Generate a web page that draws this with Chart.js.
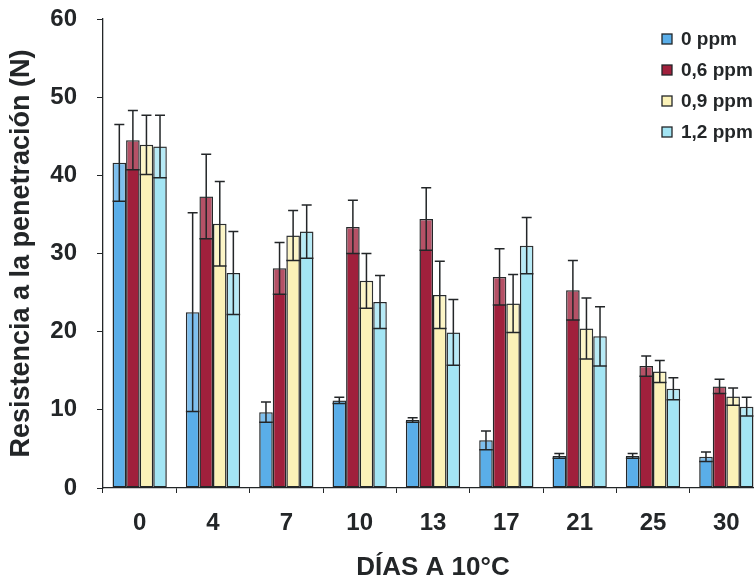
<!DOCTYPE html>
<html>
<head>
<meta charset="utf-8">
<script src="https://cdn.jsdelivr.net/npm/chart.js@4/dist/chart.umd.min.js"></script>
<style>
    html, body { margin: 0; padding: 0; background: #ffffff; overflow: hidden; }
    #wrap { width: 754px; height: 585px; overflow: hidden; }
</style>
</head>
<body>
<div id="wrap"><canvas id="firmnessChart" width="772" height="585"></canvas></div>
<script>
    const days = ['0', '4', '7', '10', '13', '17', '21', '25', '30'];
    const yTicks = [0, 10, 20, 30, 40, 50, 60];

    const ppm0 = [41.6, 22.5, 9.7, 11.2, 8.7, 6.1, 4.1, 4.1, 4.0];
    const ppm0Err = [4.9, 12.7, 1.3, 0.4, 0.3, 1.2, 0.3, 0.3, 0.6];
    const ppm06 = [44.5, 37.3, 28.1, 33.4, 34.4, 27.0, 25.3, 15.6, 13.0];
    const ppm06Err = [3.8, 5.4, 3.3, 3.4, 4.0, 3.6, 3.8, 1.3, 0.9];
    const ppm09 = [43.9, 33.8, 32.3, 26.5, 24.7, 23.6, 20.4, 14.9, 11.7];
    const ppm09Err = [3.8, 5.4, 3.2, 3.5, 4.3, 3.7, 3.9, 1.4, 1.1];
    const ppm12 = [43.7, 27.5, 32.8, 23.8, 19.9, 31.0, 19.4, 12.7, 10.4];
    const ppm12Err = [4.0, 5.3, 3.4, 3.4, 4.2, 3.6, 3.8, 1.4, 1.2];

    const ink = '#232628';
    const font = 'Liberation Sans, Arial, sans-serif';

    // error bars: whisker + cap above, lighter band with a bar-wide line below
    const errorBars = {
        id: 'errorBars',
        afterDatasetsDraw(chart) {
            let ctx = chart.ctx;
            let y = chart.scales.y;
            chart.data.datasets.forEach(function (ds, i) {
                let meta = chart.getDatasetMeta(i);
                meta.data.forEach(function (bar, j) {
                    let v = ds.data[j];
                    let e = ds.errors[j];
                    let yTop = y.getPixelForValue(v + e);
                    let yBot = y.getPixelForValue(v - e);
                    let left = bar.x - bar.width / 2;
                    let right = bar.x + bar.width / 2;
                    ctx.save();
                    ctx.fillStyle = 'rgba(255,255,255,0.22)';
                    ctx.fillRect(left + 1, bar.y + 1, bar.width - 2, yBot - bar.y - 1);
                    ctx.strokeStyle = ink;
                    ctx.lineWidth = 1.5;
                    ctx.beginPath();
                    ctx.moveTo(bar.x, yBot);
                    ctx.lineTo(bar.x, yTop);
                    ctx.moveTo(bar.x - 5, yTop);
                    ctx.lineTo(bar.x + 5, yTop);
                    ctx.moveTo(left, yBot);
                    ctx.lineTo(right, yBot);
                    ctx.stroke();
                    ctx.restore();
                });
            });
        }
    };

    // legend drawn inside the plot, top right
    const boxLegend = {
        id: 'boxLegend',
        afterDraw(chart) {
            let ctx = chart.ctx;
            ctx.save();
            ctx.font = 'bold 19px ' + font;
            ctx.textBaseline = 'middle';
            chart.data.datasets.forEach(function (ds, i) {
                let cy = 39 + i * 31;
                ctx.fillStyle = ds.backgroundColor;
                ctx.fillRect(662, cy - 5, 10, 10);
                ctx.strokeStyle = ink;
                ctx.lineWidth = 1.3;
                ctx.strokeRect(662, cy - 5, 10, 10);
                ctx.fillStyle = ink;
                ctx.fillText(ds.label, 681, cy + 1);
            });
            ctx.restore();
        }
    };

    let firmnessBar = document.getElementById('firmnessChart');
    let firmnessChart = new Chart(firmnessBar, {
        type: 'bar',
        data: {
            labels: days,
            datasets: [
                { label: '0 ppm', data: ppm0, errors: ppm0Err, backgroundColor: '#5aaee9' },
                { label: '0,6 ppm', data: ppm06, errors: ppm06Err, backgroundColor: '#a0203c' },
                { label: '0,9 ppm', data: ppm09, errors: ppm09Err, backgroundColor: '#fbf2b8' },
                { label: '1,2 ppm', data: ppm12, errors: ppm12Err, backgroundColor: '#a3e5f4' }
            ].map(function (ds) {
                ds.borderColor = ink;
                ds.borderWidth = 1.5;
                ds.borderSkipped = false;
                ds.barPercentage = 1.0;
                ds.categoryPercentage = 0.74;
                return ds;
            })
        },
        options: {
            responsive: false,
            animation: false,
            layout: { padding: { top: 19, right: 9, left: 0, bottom: 0 } },
            plugins: {
                legend: { display: false },
                tooltip: { enabled: false }
            },
            scales: {
                x: {
                    afterFit: function (scale) { scale.height = 97; },
                    border: { color: ink, width: 1.3 },
                    grid: { drawOnChartArea: false, drawTicks: true, tickLength: 5, color: ink },
                    ticks: { color: ink, padding: 16, font: { family: font, size: 24, weight: 'bold' } },
                    title: {
                        display: true,
                        text: 'DÍAS A 10°C',
                        color: ink,
                        padding: { top: 4, bottom: 2 },
                        font: { family: font, size: 26, weight: 'bold' }
                    }
                },
                y: {
                    min: 0,
                    max: 60,
                    afterFit: function (scale) {
                        scale.width = 103;
                        scale.paddingTop = 0;
                        scale.paddingBottom = 0;
                    },
                    afterBuildTicks: function (scale) {
                        scale.ticks = yTicks.map(function (v) { return { value: v }; });
                    },
                    border: { color: ink, width: 1.3 },
                    grid: { drawOnChartArea: false, drawTicks: true, tickLength: 6, color: ink },
                    ticks: { color: ink, padding: 20, font: { family: font, size: 24, weight: 'bold' } },
                    title: {
                        display: true,
                        text: 'Resistencia a la penetración (N)',
                        color: ink,
                        padding: { top: 5, bottom: 0 },
                        font: { family: font, size: 27, weight: 'bold' }
                    }
                }
            }
        },
        plugins: [errorBars, boxLegend]
    });
</script>
</body>
</html>
